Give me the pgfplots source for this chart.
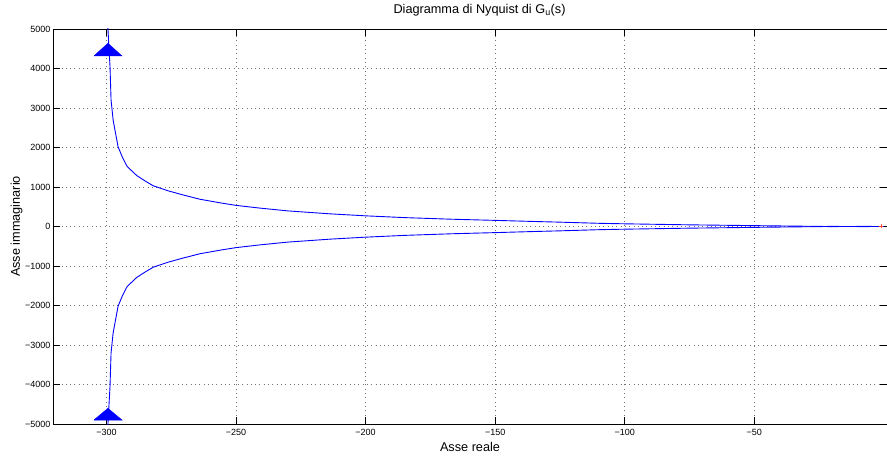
\documentclass[border=0pt]{standalone}
\usepackage{fontspec}
\setmainfont{Liberation Sans}
\usepackage{pgfplots}
\pgfplotsset{compat=1.18}
\begin{document}
\begin{tikzpicture}
\begin{axis}[
  scale only axis, width=834bp, height=395bp,
  xmin=-320.6, xmax=1.2, ymin=-5000, ymax=5000,
  xtick={-300,-250,-200,-150,-100,-50},
  xticklabels={−300,−250,−200,−150,−100,−50},
  ytick={-5000,-4000,...,5000},
  yticklabels={−5000,−4000,−3000,−2000,−1000,0,1000,2000,3000,4000,5000},
  tick align=inside, xtick pos=both, ytick pos=both,
  xticklabel pos=bottom, yticklabel pos=left,
  major tick length=7bp,
  tick style={black, line width=0.6bp},
  axis line style={black, line width=0.8bp},
  grid=major,
  major grid style={black!55, line width=0.6bp, dash pattern=on 0.8bp off 3.5bp},
  ticklabel style={font=\fontsize{9bp}{10bp}\selectfont, inner sep=0pt},
  xticklabel style={yshift=-5.5bp},
  yticklabel style={xshift=-2.5bp},
  title={Diagramma di Nyquist di G\textsubscript{u}(s)},
  title style={at={(axis description cs:0.5114,1.024)}, anchor=base, inner sep=0pt, font=\fontsize{12.7bp}{14bp}\selectfont},
  xlabel={Asse reale},
  xlabel style={at={(axis description cs:0.5,-0.0696)}, anchor=base, inner sep=0pt, font=\fontsize{12.7bp}{14bp}\selectfont},
  ylabel={Asse immaginario},
  ylabel style={at={(axis description cs:-0.0396,0.5)}, anchor=base, inner sep=0pt, font=\fontsize{12.7bp}{14bp}\selectfont},
]
\addplot[red!70, only marks, mark=+, mark size=2bp] coordinates {(-1,0)};
\addplot[blue, line width=0.9bp] coordinates {
(-299.7,6000) (-299.4,5000) (-298.6,4046) (-298.2,3203) (-297.4,2696)
(-295.5,2020) (-293.8,1750) (-292.0,1520) (-288.3,1290) (-285,1150)
(-281.9,1030) (-276,900) (-270.3,797) (-263.9,690) (-256.2,600)
(-250,535) (-240.7,465) (-230,395) (-213.6,320) (-200,270)
(-185,225) (-167.2,185) (-150,155) (-135,127) (-125,110) (-109.5,80)
(-100,68) (-75,42) (-50,22) (-35,10) (-25,3) (-20.7,-3) (-15,0) (-8,2) (0,0)
};
\addplot[blue, line width=0.9bp] coordinates {
(-299.7,-6000) (-299.4,-5000) (-298.6,-4046) (-298.2,-3203) (-297.4,-2696)
(-295.5,-2020) (-293.8,-1750) (-292.0,-1520) (-288.3,-1290) (-285,-1150)
(-281.9,-1030) (-276,-900) (-270.3,-797) (-263.9,-690) (-256.2,-600)
(-250,-535) (-240.7,-465) (-230,-395) (-213.6,-320) (-200,-270)
(-185,-225) (-167.2,-185) (-150,-155) (-135,-127) (-125,-110) (-109.5,-80)
(-100,-68) (-75,-42) (-50,-22) (-35,-10) (-25,-3) (-20.7,3) (-15,0) (-8,-2) (0,0)
};
\addplot[fill=blue, draw=blue, line width=0.5bp] coordinates {(-304.8,4317) (-299.4,4638) (-294.0,4317) (-304.8,4317)};
\addplot[fill=blue, draw=blue, line width=0.5bp] coordinates {(-304.8,-4899) (-299.4,-4603) (-294.0,-4899) (-304.8,-4899)};
\end{axis}
\pgfresetboundingbox
\path[use as bounding box] (-53bp,-33bp) rectangle (834bp,424bp);
\end{tikzpicture}
\end{document}
